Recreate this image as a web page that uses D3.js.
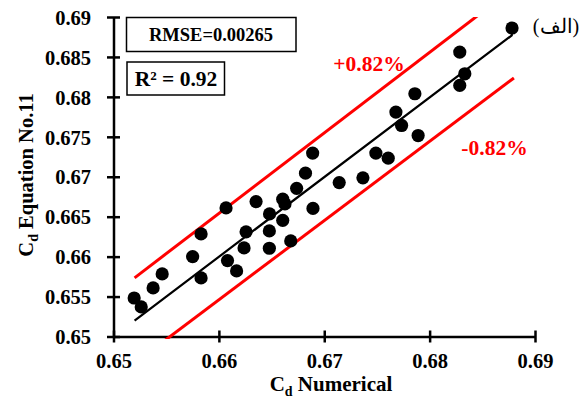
<!DOCTYPE html>
<html>
<head>
<meta charset="utf-8">
<script src="https://cdn.jsdelivr.net/npm/d3@7"></script>
<style>
  html, body { margin: 0; padding: 0; background: #fff; }
  svg { display: block; }
  text { font-family: "Liberation Serif", "Times New Roman", serif; }
</style>
</head>
<body>
<svg id="chart" width="587" height="401"></svg>
<script>
// Discharge coefficient: numerical model vs. equation No.11
const cdNumerical = [
  0.65196, 0.65263, 0.65376, 0.65462, 0.65751, 0.65831, 0.65831, 0.66068, 0.66082,
  0.66168, 0.66258, 0.66239, 0.66353, 0.66481, 0.66479, 0.66479, 0.66606, 0.66627,
  0.66606, 0.66682, 0.66738, 0.66822, 0.66890, 0.66893, 0.67142, 0.67367, 0.67490,
  0.67607, 0.67680, 0.67734, 0.67860, 0.67891, 0.68286, 0.68334, 0.68286, 0.68782
];
const cdEquation = [
  0.65482, 0.65370, 0.65608, 0.65783, 0.66000, 0.66284, 0.65733, 0.66610, 0.65950,
  0.65821, 0.66310, 0.66109, 0.66689, 0.66535, 0.66322, 0.66105, 0.66719, 0.66660,
  0.66454, 0.66197, 0.66855, 0.67045, 0.67296, 0.66604, 0.66927, 0.66986, 0.67296,
  0.67233, 0.67810, 0.67642, 0.68039, 0.67516, 0.68561, 0.68289, 0.68143, 0.68862
];

// 1:1 line and the +/- 0.82 % band around it
const fitX = [0.652, 0.6878, 0.6878];
const fitY = [0.652, 0.6877, 0.6886];
const bandX = [0.652, 0.688];
const bandPct = [0.82, -0.82];

const xTicks = [0.65, 0.66, 0.67, 0.68, 0.69];
const yTicks = [0.65, 0.655, 0.66, 0.665, 0.67, 0.675, 0.68, 0.685, 0.69];
const xTitle = "Numerical";
const yTitle = "Equation No.11";
const rmseLabel = "RMSE=0.00265";
const r2Label = "R² = 0.92";
const panelLabel = "(الف)";

const svg = d3.select("#chart");
const x = d3.scaleLinear().domain([0.65, 0.69]).range([113.5, 535]);
const y = d3.scaleLinear().domain([0.65, 0.69]).range([336.5, 17]);

svg.append("defs").append("clipPath").attr("id", "plot")
  .append("rect").attr("x", 113.5).attr("y", 17).attr("width", 421.5).attr("height", 322);

// Axes: ticks crossing the axis line
const xAxis = svg.append("g").attr("transform", "translate(0,336.5)")
  .call(d3.axisBottom(x).tickValues(xTicks).tickSize(0).tickFormat(d3.format(".2f")));
xAxis.select(".domain").attr("stroke", "#000").attr("stroke-width", 2.5);
xAxis.selectAll(".tick line").attr("y1", -6).attr("y2", 6).attr("stroke", "#000").attr("stroke-width", 2.5);
xAxis.selectAll(".tick text")
  .attr("y", 24).attr("dy", "0.35em")
  .attr("font-family", "Liberation Serif").attr("font-weight", "bold").attr("font-size", 20.5).attr("fill", "#000");

const yAxis = svg.append("g").attr("transform", "translate(113.5,0)")
  .call(d3.axisLeft(y).tickValues(yTicks).tickSize(0).tickFormat(d => String(+d.toFixed(3))));
yAxis.select(".domain").attr("stroke", "#000").attr("stroke-width", 2.5);
yAxis.selectAll(".tick line").attr("x1", -6.5).attr("x2", 6.5).attr("stroke", "#000").attr("stroke-width", 2.5);
yAxis.selectAll(".tick text")
  .attr("x", -22.5).attr("dy", "0.35em")
  .attr("font-family", "Liberation Serif").attr("font-weight", "bold").attr("font-size", 20.5).attr("fill", "#000");

// Axis titles with subscript d
const xt = svg.append("text").attr("x", 331).attr("y", 391).attr("text-anchor", "middle")
  .attr("font-weight", "bold").attr("font-size", 21);
xt.append("tspan").text("C");
xt.append("tspan").attr("font-size", 14).attr("dy", 5).text("d");
xt.append("tspan").attr("dy", -5).text(" " + xTitle);

const yt = svg.append("text").attr("transform", "translate(33,175) rotate(-90)")
  .attr("text-anchor", "middle").attr("font-weight", "bold").attr("font-size", 20.5);
yt.append("tspan").text("C");
yt.append("tspan").attr("font-size", 14).attr("dy", 5).text("d");
yt.append("tspan").attr("dy", -5).text(" " + yTitle);

// Band lines
const plotG = svg.append("g").attr("clip-path", "url(#plot)");
const line = d3.line().x(d => x(d[0])).y(d => y(d[1]));
bandPct.forEach(p => {
  plotG.append("path")
    .datum(bandX.map(v => [v, v * (1 + p / 100)]))
    .attr("d", line).attr("fill", "none").attr("stroke", "#ff0000").attr("stroke-width", 3);
});

// Fit line
plotG.append("path")
  .datum(fitX.map((v, i) => [v, fitY[i]]))
  .attr("d", line).attr("fill", "none").attr("stroke", "#000").attr("stroke-width", 2.2)
  .attr("stroke-linejoin", "round");

// Data points
svg.append("g").selectAll("circle")
  .data(cdNumerical.map((v, i) => [v, cdEquation[i]]))
  .join("circle")
  .attr("cx", d => x(d[0])).attr("cy", d => y(d[1])).attr("r", 6.6).attr("fill", "#000");

// Band labels
svg.append("text").attr("x", 369).attr("y", 63).attr("dy", "0.35em").attr("text-anchor", "middle")
  .attr("fill", "#ff0000").attr("font-weight", "bold").attr("font-size", 21.5).text("+" + bandPct[0].toFixed(2) + "%");
svg.append("text").attr("x", 494.5).attr("y", 147).attr("dy", "0.35em").attr("text-anchor", "middle")
  .attr("fill", "#ff0000").attr("font-weight", "bold").attr("font-size", 21.5).text(bandPct[1].toFixed(2) + "%");

// Panel label
svg.append("text").attr("x", 556).attr("y", 26).attr("dy", "0.35em").attr("text-anchor", "middle")
  .attr("font-size", 20).attr("fill", "#000").text(panelLabel);

// Statistics boxes
svg.append("rect").attr("x", 126.5).attr("y", 17.5).attr("width", 169.5).attr("height", 34)
  .attr("fill", "#fff").attr("stroke", "#000").attr("stroke-width", 1.5);
svg.append("text").attr("x", 211).attr("y", 35).attr("dy", "0.35em").attr("text-anchor", "middle")
  .attr("font-weight", "bold").attr("font-size", 18.5).text(rmseLabel);
svg.append("rect").attr("x", 127).attr("y", 62).attr("width", 97.5).attr("height", 33)
  .attr("fill", "#fff").attr("stroke", "#000").attr("stroke-width", 1.5);
svg.append("text").attr("x", 176).attr("y", 78.5).attr("dy", "0.35em").attr("text-anchor", "middle")
  .attr("font-weight", "bold").attr("font-size", 21.5).text(r2Label);
</script>
</body>
</html>
